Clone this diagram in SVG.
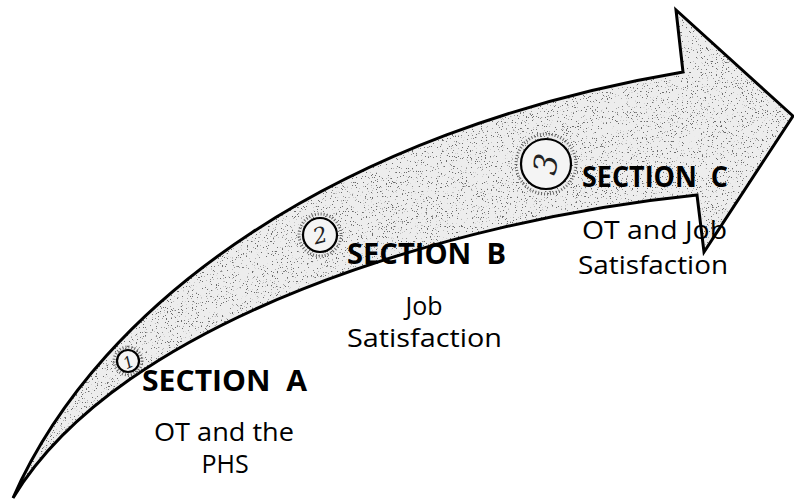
<svg xmlns="http://www.w3.org/2000/svg" width="794" height="500" viewBox="0 0 794 500">
  <style>
    .head { font-family: "Open Sans", "Liberation Sans", sans-serif; font-weight: 700; font-size: 29px; fill: #000; white-space: pre; }
    .body { font-family: "Open Sans", "Liberation Sans", sans-serif; font-weight: 400; font-size: 25px; fill: #000; }
    .num { font-family: "DejaVu Serif", serif; font-style: italic; fill: #222; }
    .outline { fill: none; stroke: #000; stroke-width: 3; stroke-linejoin: miter; }
    .marker { fill: #f4f4f4; stroke: #000; stroke-width: 2.2; }
    .halo { fill: none; stroke: #666; stroke-width: 3; stroke-dasharray: 1 2; }
  </style>
  <defs>
    <path id="arrowShape" d="M13,498 C100,300 340,130 683,72 L676,10 L793,116 L704,252 L697,195 C450,220 120,320 13,498 Z"/>
    <clipPath id="arrowClip"><use href="#arrowShape"/></clipPath>
    <filter id="speck" x="0" y="0" width="100%" height="100%">
      <feTurbulence type="fractalNoise" baseFrequency="0.8" numOctaves="2" seed="7" result="n"/>
      <feColorMatrix in="n" type="matrix" values="0 0 0 0 0.15  0 0 0 0 0.15  0 0 0 0 0.15  16 0 0 0 -10.4"/>
    </filter>
  </defs>
  <rect width="794" height="500" fill="#fff"/>

  <g id="connectors">
    <use href="#arrowShape" fill="#ededed"/>
    <g clip-path="url(#arrowClip)">
      <rect x="0" y="0" width="794" height="500" filter="url(#speck)"/>
    </g>
    <use href="#arrowShape" class="outline"/>
  </g>

  <g id="sectionA">
    <circle cx="128" cy="361" r="14" class="halo"/>
    <circle cx="128" cy="361" r="11" class="marker"/>
    <text x="128" y="368" class="num" font-size="16" text-anchor="middle" transform="rotate(-25 128 361)">1</text>
    <text x="142" y="391" class="head" textLength="165" lengthAdjust="spacingAndGlyphs">SECTION  A</text>
    <text x="154" y="441" class="body" textLength="140" lengthAdjust="spacingAndGlyphs">OT and the</text>
    <text x="225" y="473" class="body" text-anchor="middle">PHS</text>
  </g>

  <g id="sectionB">
    <circle cx="320" cy="235" r="21" class="halo"/>
    <circle cx="320" cy="235" r="17" class="marker"/>
    <text x="320" y="243" class="num" font-size="22" text-anchor="middle" transform="rotate(-15 320 235)">2</text>
    <text x="347" y="264" class="head" textLength="159" lengthAdjust="spacingAndGlyphs">SECTION  B</text>
    <text x="424" y="315" class="body" text-anchor="middle">Job</text>
    <text x="347" y="347" class="body" textLength="155" lengthAdjust="spacingAndGlyphs">Satisfaction</text>
  </g>

  <g id="sectionC">
    <circle cx="546" cy="164" r="30" class="halo"/>
    <circle cx="546" cy="164" r="25" class="marker"/>
    <text x="546" y="175" class="num" font-size="32" text-anchor="middle" transform="rotate(-80 546 164)">3</text>
    <text x="582" y="187" class="head" textLength="146" lengthAdjust="spacingAndGlyphs">SECTION  C</text>
    <text x="582" y="239" class="body" textLength="145" lengthAdjust="spacingAndGlyphs">OT and Job</text>
    <text x="578" y="274" class="body" textLength="150" lengthAdjust="spacingAndGlyphs">Satisfaction</text>
  </g>
</svg>
